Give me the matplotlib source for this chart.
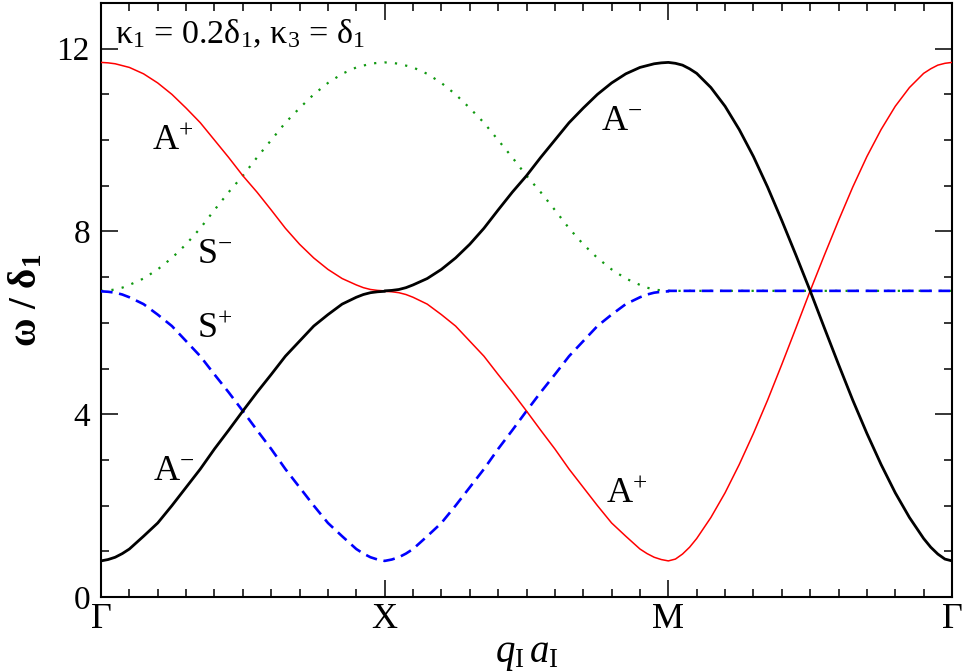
import numpy as np
import matplotlib
matplotlib.use("Agg")
import matplotlib.pyplot as plt
from matplotlib.ticker import MultipleLocator

plt.rcParams["font.family"] = ["Liberation Serif", "DejaVu Serif"]
plt.rcParams["mathtext.fontset"] = "custom"
plt.rcParams["mathtext.rm"] = "Liberation Serif"
plt.rcParams["mathtext.it"] = "Liberation Serif:italic"
plt.rcParams["mathtext.bf"] = "Liberation Serif:bold"

# high symmetry points along the path
path_labels = ["Γ", "X", "M", "Γ"]

# fraction along one path segment where the branches were read
seg_pos = [0, 0.025, 0.05, 0.075, 0.1, 0.15, 0.2, 0.25, 0.3, 0.35, 0.4, 0.45, 0.5,
           0.55, 0.6, 0.65, 0.7, 0.75, 0.8, 0.85, 0.9, 0.925, 0.95, 0.975, 1]

# branch shapes
lower_branch = [0.79, 0.82, 0.87, 0.95, 1.05, 1.33, 1.62, 2.00, 2.40, 2.80, 3.24, 3.65, 4.07,
                4.48, 4.87, 5.27, 5.60, 5.93, 6.18, 6.41, 6.56, 6.62, 6.66, 6.68, 6.69]
upper_branch = [6.70, 6.71, 6.73, 6.77, 6.83, 6.97, 7.17, 7.42, 7.72, 8.07, 8.47, 8.86, 9.22,
                9.62, 10.00, 10.38, 10.70, 11.00, 11.25, 11.45, 11.59, 11.63, 11.67, 11.69, 11.70]
diag_branch = [0.79, 0.83, 0.94, 1.09, 1.28, 1.74, 2.28, 2.90, 3.58, 4.31, 5.09, 5.89, 6.70,
               7.48, 8.24, 8.97, 9.64, 10.23, 10.74, 11.15, 11.46, 11.56, 11.64, 11.68, 11.70]
flat_level = 6.70

lo = np.array(lower_branch)
up = np.array(upper_branch)
dg = np.array(diag_branch)
fl = np.full(len(lo), flat_level)

# modes along Γ -> X -> M -> Γ
a_minus = np.concatenate([lo, up, dg[::-1]])
a_plus = np.concatenate([up[::-1], lo[::-1], dg])
s_plus = np.concatenate([lo[::-1], lo, fl])
s_minus = np.concatenate([up, up[::-1], fl])

seg = np.array(seg_pos)
q = np.concatenate([seg, seg + 1, seg + 2])

fig = plt.figure(figsize=(9.66, 6.71), dpi=100)
ax = fig.add_axes([101 / 966, 1 - 597 / 671, 851 / 966, 594 / 671])

ax.plot(q, s_minus, color="#119911", lw=1.6, linestyle=(0, (1, 3.7)), zorder=2)
ax.plot(q, s_plus, color="#0000ff", lw=1.9, linestyle=(0, (4.4, 2.5)), zorder=3)
ax.plot(q, a_plus, color="#ff0000", lw=1.1, zorder=4)
ax.plot(q, a_minus, color="black", lw=2.0, zorder=5)

ax.set_xlim(0, 3)
ax.set_ylim(0, 13)
ax.set_xticks([0, 1, 2, 3])
ax.set_xticklabels(path_labels, fontsize=26)
ax.xaxis.set_minor_locator(MultipleLocator(0.1))
ax.set_yticks([0, 4, 8, 12])
ax.set_yticklabels(["0", "4", "8", "12"], fontsize=24)
ax.yaxis.set_minor_locator(MultipleLocator(1))

ax.tick_params(which="both", direction="in", top=True, right=True, width=1.1)
ax.tick_params(which="major", length=12)
ax.tick_params(which="minor", length=6)
ax.tick_params(axis="y", pad=8)
ax.tick_params(axis="x", pad=4)
for sp in ax.spines.values():
    sp.set_linewidth(1.5)

ax.set_xlabel(r"$q_\mathrm{I}\,a_\mathrm{I}$", fontsize=28, labelpad=0)
ax.set_ylabel(r"ω / δ$_\mathbf{1}$", fontsize=28, fontweight="bold", labelpad=8)

ax.text(0.05, 12.13, "κ$_1$ = 0.2δ$_1$, κ$_3$ = δ$_1$", fontsize=24.5)

lab = dict(fontsize=26, ha="left", va="baseline")
ax.text(0.18, 9.79, r"$\mathrm{A}^{+}$", **lab)
ax.text(0.338, 7.31, r"$\mathrm{S}^{-}$", **lab)
ax.text(0.338, 5.67, r"$\mathrm{S}^{+}$", **lab)
ax.text(0.183, 2.56, r"$\mathrm{A}^{-}$", **lab)
ax.text(1.763, 10.23, r"$\mathrm{A}^{-}$", **lab)
ax.text(1.781, 2.065, r"$\mathrm{A}^{+}$", **lab)

fig.savefig("out.png", dpi=100)
